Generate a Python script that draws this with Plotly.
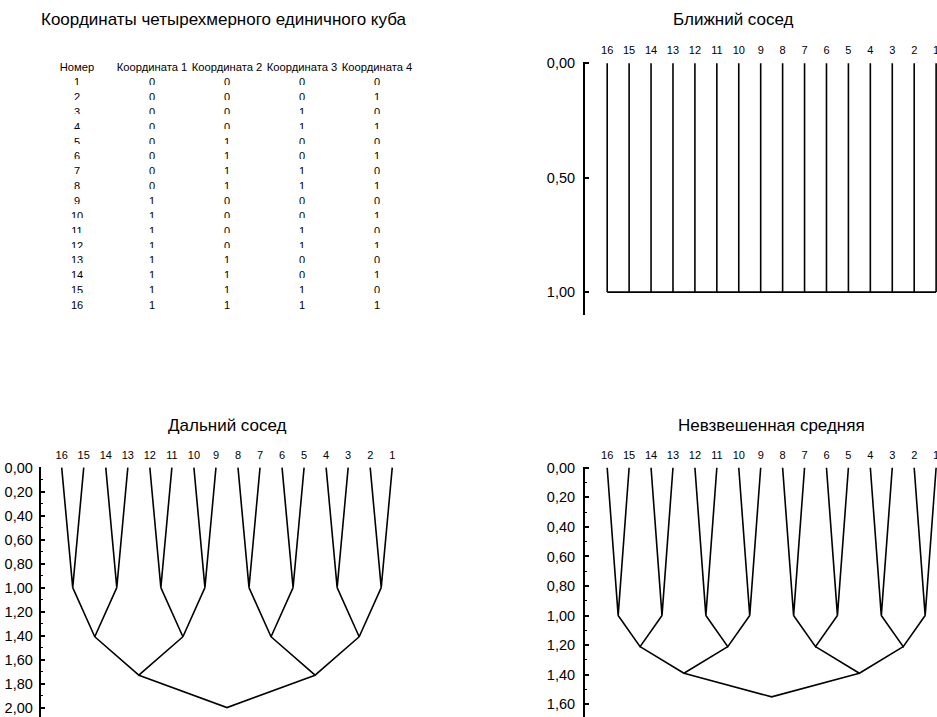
import plotly.graph_objects as go

W, H = 937, 717

# ---------------- data ----------------
numbers = list(range(1, 17))
coord1 = [0, 0, 0, 0, 0, 0, 0, 0, 1, 1, 1, 1, 1, 1, 1, 1]
coord2 = [0, 0, 0, 0, 1, 1, 1, 1, 0, 0, 0, 0, 1, 1, 1, 1]
coord3 = [0, 0, 1, 1, 0, 0, 1, 1, 0, 0, 1, 1, 0, 0, 1, 1]
coord4 = [0, 1, 0, 1, 0, 1, 0, 1, 0, 1, 0, 1, 0, 1, 0, 1]
table_header = ["Номер", "Координата\u00a01", "Координата\u00a02", "Координата\u00a03", "Координата\u00a04"]

leaf_order = [16, 15, 14, 13, 12, 11, 10, 9, 8, 7, 6, 5, 4, 3, 2, 1]
single_heights = [1.00, 1.00, 1.00, 1.00]      # ближний сосед
complete_heights = [1.00, 1.41, 1.73, 2.00]    # дальний сосед
average_heights = [1.00, 1.21, 1.39, 1.55]     # невзвешенная средняя

titles = ["Координаты четырехмерного единичного куба", "Ближний сосед",
          "Дальний сосед", "Невзвешенная средняя"]

FONT = "Liberation Sans, Arial, Helvetica, sans-serif"

fig = go.Figure()

def px_x(a, b):
    return [a / W, b / W]

def px_y(top, bottom):
    return [1 - bottom / H, 1 - top / H]

# ---------------- table ----------------
fig.add_trace(go.Table(
    domain=dict(x=px_x(39.5, 414.5), y=px_y(55, 330)),
    columnwidth=[1, 1, 1, 1, 1],
    header=dict(values=table_header, align="center", height=14.9,
                line=dict(color="white", width=0), fill=dict(color="white"),
                font=dict(family=FONT, size=11.2, color="black")),
    cells=dict(values=[numbers, coord1, coord2, coord3, coord4], align="center", height=14.85,
               line=dict(color="white", width=0), fill=dict(color="white"),
               font=dict(family=FONT, size=11, color="black")),
))

positions = list(range(len(leaf_order)))

# ---------------- dendrogram helpers ----------------
def tree_segments(heights):
    xs, ys = [], []
    nodes = [(p, 0.0) for p in positions]
    for h in heights:
        new_nodes = []
        for i in range(0, len(nodes), 2):
            (x1, h1), (x2, h2) = nodes[i], nodes[i + 1]
            xp = (x1 + x2) / 2
            xs += [x1, xp, x2, None]
            ys += [h1, h, h2, None]
            new_nodes.append((xp, h))
        nodes = new_nodes
    return xs, ys

def single_segments(heights):
    top = max(heights)
    xs, ys = [], []
    for p in positions:
        xs += [p, p, None]
        ys += [0, top, None]
    xs += [positions[0], positions[-1], None]
    ys += [top, top, None]
    return xs, ys

line_style = dict(color="black", width=1.6)

specs = [
    dict(n=2, seg=single_segments(single_heights), xd=(585, 937), xr=[-1.012, 15.04],
         yd=(61.7, 315), yr=[1.10, -0.007], dtick=0.5, minor=None, standoff=5),
    dict(n=3, seg=tree_segments(complete_heights), xd=(40.7, 420), xr=[-0.953, 16.26],
         yd=(466.7, 717), yr=[2.079, -0.008], dtick=0.2, minor=0.1, standoff=3),
    dict(n=4, seg=tree_segments(average_heights), xd=(585, 937), xr=[-1.012, 15.04],
         yd=(466.7, 717), yr=[1.686, -0.007], dtick=0.2, minor=0.1, standoff=5),
]

for s in specs:
    n = s["n"]
    xs, ys = s["seg"]
    fig.add_trace(go.Scatter(x=xs, y=ys, mode="lines", line=line_style,
                             xaxis=f"x{n}", yaxis=f"y{n}", showlegend=False,
                             hoverinfo="skip", cliponaxis=True))
    xa = dict(domain=px_x(*s["xd"]), range=s["xr"], anchor=f"y{n}", side="top",
              showline=False, showgrid=False, zeroline=False, ticks="", automargin=False,
              tickmode="array", tickvals=positions, ticktext=[str(v) for v in leaf_order],
              ticklabeloverflow="allow",
              tickfont=dict(family=FONT, size=11, color="black"), ticklabelstandoff=5)
    ya = dict(domain=px_y(*s["yd"]), range=s["yr"], anchor=f"x{n}", automargin=False,
              showline=True, linecolor="black", linewidth=2,
              showgrid=False, zeroline=False, ticks="inside", ticklen=4, tickwidth=1.5,
              tickcolor="black", tickmode="linear", tick0=0, dtick=s["dtick"],
              tickformat=".2f", tickfont=dict(family=FONT, size=14.5, color="black"),
              ticklabelstandoff=s["standoff"])
    if s["minor"]:
        ya["minor"] = dict(ticks="inside", ticklen=2, tickwidth=1, tickcolor="black",
                           dtick=s["minor"], tick0=0)
    fig.layout[f"xaxis{n}"] = xa
    fig.layout[f"yaxis{n}"] = ya

# ---------------- titles ----------------
title_pos = [(223, 20), (733, 20), (227, 425), (771, 425)]
for t, (cx, cy) in zip(titles, title_pos):
    fig.add_annotation(text=t, x=cx / W, y=1 - cy / H, xref="paper", yref="paper",
                       showarrow=False, xanchor="center", yanchor="middle",
                       font=dict(family=FONT, size=17, color="black"))

fig.update_layout(width=W, height=H, margin=dict(l=0, r=0, t=0, b=0),
                  paper_bgcolor="white", plot_bgcolor="white", separators=", ",
                  showlegend=False, font=dict(family=FONT, color="black"))

fig.write_html("out.html", config={"displayModeBar": False},
               post_script="document.body.style.margin='0';")
